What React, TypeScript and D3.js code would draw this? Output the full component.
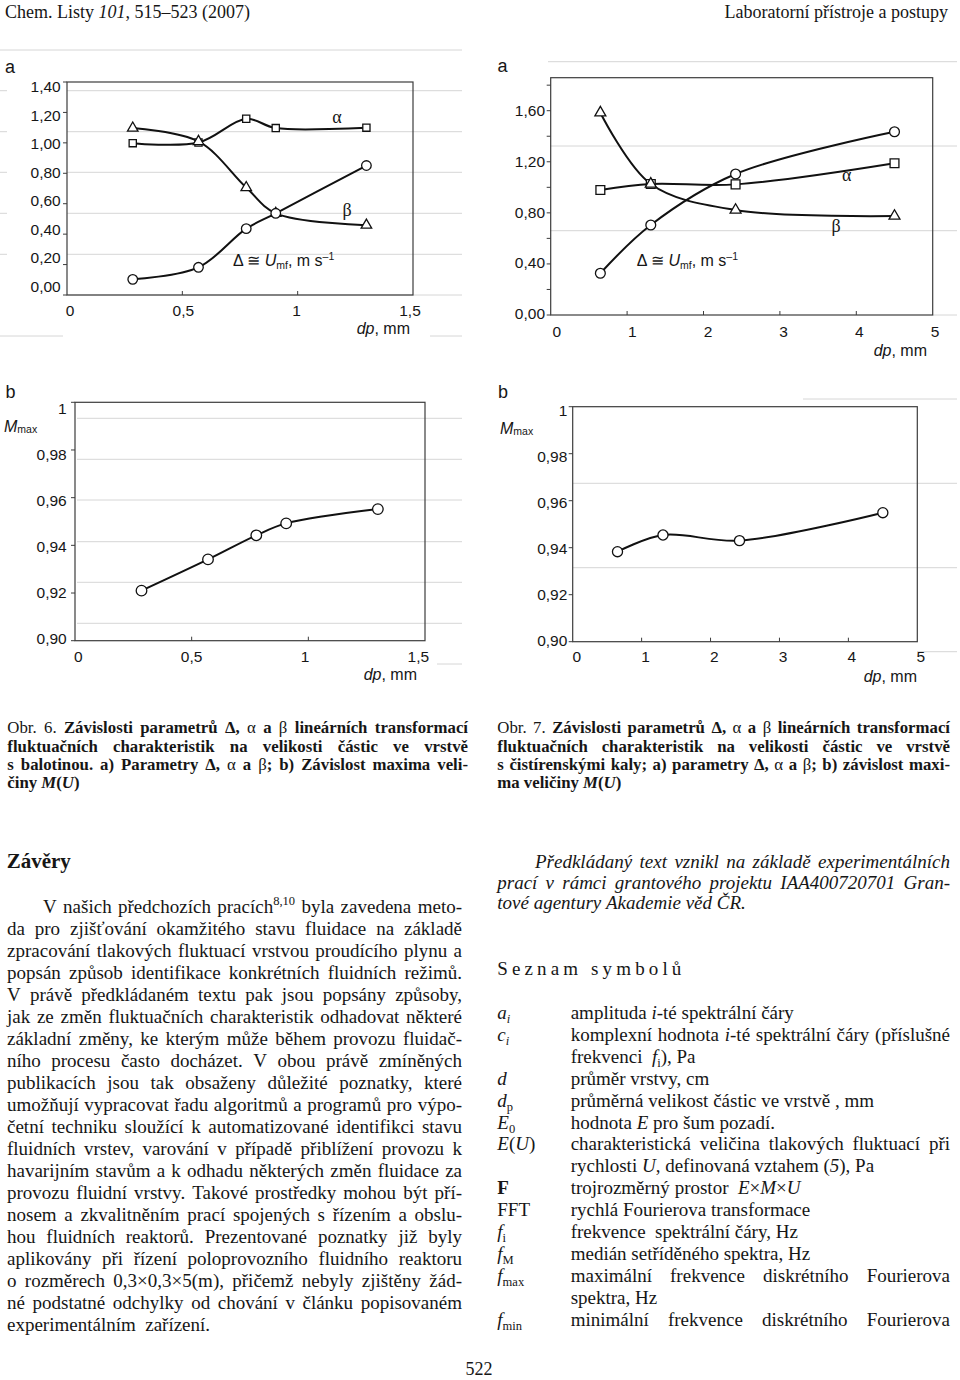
import React from "react";
import * as d3 from "d3";

// ---------------- data ----------------
const fig6Dp = [0.285, 0.57, 0.777, 0.905, 1.298];
const fig6Delta = [0.103, 0.182, 0.436, 0.537, 0.851];
const fig6Alpha = [0.998, 1.002, 1.158, 1.097, 1.1];
const fig6Beta = [1.097, 1.009, 0.706, 0.537, 0.459];
const fig6Mmax = [0.921, 0.9341, 0.9442, 0.9492, 0.9552];

const fig7Dp = [0.65, 1.31, 2.42, 4.5];
const fig7Delta = [0.327, 0.705, 1.104, 1.435];
const fig7Alpha = [0.979, 1.026, 1.023, 1.188];
const fig7Beta = [1.584, 1.026, 0.822, 0.775];
const fig7Mmax = [0.9383, 0.9454, 0.943, 0.9549];

const fig6XTicks = [0, 0.5, 1, 1.5];
const fig6XLabels = ["0", "0,5", "1", "1,5"];
const fig7XTicks = [0, 1, 2, 3, 4, 5];
const fig7XLabels = ["0", "1", "2", "3", "4", "5"];
const fig6aYTicks = [0, 0.2, 0.4, 0.6, 0.8, 1.0, 1.2, 1.4];
const fig6aYLabels = ["0,00", "0,20", "0,40", "0,60", "0,80", "1,00", "1,20", "1,40"];
const fig7aYTicks = [0, 0.4, 0.8, 1.2, 1.6];
const fig7aYLabels = ["0,00", "0,40", "0,80", "1,20", "1,60"];
const fig7aYMinor = [0.2, 0.6, 1.0, 1.4, 1.8];
const mmaxYTicks = [0.9, 0.92, 0.94, 0.96, 0.98, 1.0];
const mmaxYLabels = ["0,90", "0,92", "0,94", "0,96", "0,98", "1"];

// ---------------- text ----------------
const headerLeft = "Chem. Listy {ri:101}, 515–523 (2007)";
const headerRight = "Laboratorní přístroje a postupy";

const cap6 = [
  "{r:Obr. 6.} Závislosti parametrů Δ, {r:α} a {r:β} lineárních transformací",
  "fluktuačních charakteristik na velikosti částic ve vrstvě",
  "s balotinou. a) Parametry Δ, {r:α} a {r:β}; b) Závislost  maxima veli-",
  "činy {i:M}({i:U})",
];
const cap7 = [
  "{r:Obr. 7.} Závislosti parametrů Δ, {r:α} a {r:β} lineárních transformací",
  "fluktuačních charakteristik na velikosti částic ve vrstvě",
  "s čistírenskými kaly; a) parametry Δ, {r:α} a {r:β}; b) závislost  maxi-",
  "ma veličiny {i:M}({i:U})",
];

const conclusionLines = [
  "V našich předchozích pracích{u:8,10} byla zavedena meto-",
  "da pro zjišťování  okamžitého stavu fluidace na základě",
  "zpracování tlakových fluktuací vrstvou proudícího plynu a",
  "popsán způsob identifikace  konkrétních fluidních režimů.",
  "V právě předkládaném textu pak jsou popsány způsoby,",
  "jak ze změn fluktuačních charakteristik odhadovat některé",
  "základní změny, ke kterým může během provozu fluidač-",
  "ního procesu často docházet. V obou právě zmíněných",
  "publikacích jsou tak obsaženy důležité poznatky, které",
  "umožňují vypracovat řadu algoritmů a programů pro výpo-",
  "četní techniku sloužící k automatizované identifikci stavu",
  "fluidních vrstev, varování v případě přiblížení provozu k",
  "havarijním stavům a k odhadu některých změn fluidace za",
  "provozu fluidní vrstvy. Takové prostředky mohou být pří-",
  "nosem a zkvalitněním prací spojených s řízením a obslu-",
  "hou fluidních  reaktorů. Prezentované poznatky již byly",
  "aplikovány při řízení poloprovozního fluidního reaktoru",
  "o rozměrech  0,3×0,3×5(m), přičemž nebyly zjištěny  žád-",
  "né podstatné odchylky od  chování  v  článku popisovaném",
  "experimentálním  zařízení.",
];

const ackLines = [
  "Předkládaný text vznikl na základě experimentálních",
  "prací v rámci grantového projektu IAA400720701  Gran-",
  "tové agentury Akademie věd ČR.",
];

const symbolEntries: { sym: string; lines: string[]; j: number }[] = [
  { sym: "{i:a}{id:i}", lines: ["amplituda {i:i}-té spektrální čáry"], j: 0 },
  { sym: "{i:c}{id:i}", lines: ["komplexní hodnota {i:i}-té spektrální čáry (příslušné", "frekvenci  {i:f}{d:i}), Pa"], j: 1 },
  { sym: "{i:d}", lines: ["průměr vrstvy, cm"], j: 0 },
  { sym: "{i:d}{d:p}", lines: ["průměrná velikost částic ve vrstvě , mm"], j: 0 },
  { sym: "{i:E}{d:0}", lines: ["hodnota {i:E} pro šum pozadí."], j: 0 },
  { sym: "{i:E}({i:U})", lines: ["charakteristická veličina tlakových fluktuací při", "rychlosti {i:U}, definovaná vztahem ({i:5}), Pa"], j: 1 },
  { sym: "{b:F}", lines: ["trojrozměrný prostor  {i:E}×{i:M}×{i:U}"], j: 0 },
  { sym: "FFT", lines: ["rychlá Fourierova transformace"], j: 0 },
  { sym: "{i:f}{d:i}", lines: ["frekvence  spektrální čáry, Hz"], j: 0 },
  { sym: "{i:f}{d:M}", lines: ["medián setříděného spektra, Hz"], j: 0 },
  { sym: "{i:f}{d:max}", lines: ["maximální frekvence diskrétního Fourierova", "spektra, Hz"], j: 1 },
  { sym: "{i:f}{d:min}", lines: ["minimální frekvence diskrétního Fourierova"], j: 1 },
];

// ---------------- text helpers ----------------
const SERIF = '"Liberation Serif", "Times New Roman", serif';
const SANS = '"Liberation Sans", Arial, sans-serif';
const INK = "#161616";

type Run = { t: string; i: boolean; b: boolean; d: boolean; u: boolean };
let _ctx: CanvasRenderingContext2D | null = null;
function measure(t: string, font: string) {
  if (!_ctx) _ctx = document.createElement("canvas").getContext("2d");
  _ctx!.font = font;
  return _ctx!.measureText(t).width;
}
function cssFont(i: boolean, b: boolean, size: number) {
  return `${i ? "italic " : ""}${b ? "bold " : ""}${size}px "Liberation Serif"`;
}
function parseLine(src: string, base: { i: boolean; b: boolean }): Run[][] {
  const runs: Run[] = [];
  const re = /\{([a-z]*):([^}]*)\}|([^{]+)/g;
  let m: RegExpExecArray | null;
  while ((m = re.exec(src))) {
    if (m[3] !== undefined) runs.push({ t: m[3], i: base.i, b: base.b, d: false, u: false });
    else {
      const f = m[1];
      const r = f.includes("r");
      runs.push({
        t: m[2],
        i: f.includes("i") || (!r && base.i),
        b: f.includes("b") || (!r && base.b),
        d: f.includes("d"),
        u: f.includes("u"),
      });
    }
  }
  const words: Run[][] = [[]];
  for (const run of runs) {
    run.t.split(" ").forEach((p, k) => {
      if (k > 0) words.push([]);
      if (p) words[words.length - 1].push({ ...run, t: p });
    });
  }
  return words;
}

function TLine(props: {
  src: string; x0: number; x1?: number; y: number; size: number;
  italic?: boolean; bold?: boolean; justify?: boolean; anchor?: "start" | "end" | "middle";
}) {
  const { src, x0, y, size, italic = false, bold = false, justify = false, anchor = "start" } = props;
  const x1 = props.x1 ?? x0;
  const words = parseLine(src, { i: italic, b: bold });
  const spaceW = measure(" ", cssFont(italic, bold, size));
  const ws = words.map((w) =>
    w.map((r) => {
      const fs = r.d || r.u ? size * 0.66 : size;
      return { ...r, fs, w: measure(r.t, cssFont(r.i, r.b, fs)) };
    })
  );
  const wW = ws.map((w) => d3.sum(w, (r) => r.w));
  let pos: number[] = ws.map(() => NaN);
  if (justify) {
    const idx = ws.map((_, k) => k).filter((k) => ws[k].length > 0);
    const total = d3.sum(idx, (k) => wW[k]);
    const gap = idx.length > 1 ? Math.max(spaceW * 0.5, (x1 - x0 - total) / (idx.length - 1)) : 0;
    let x = x0;
    idx.forEach((k) => { pos[k] = x; x += wW[k] + gap; });
  } else {
    const total = d3.sum(wW) + spaceW * (ws.length - 1);
    let x = anchor === "end" ? x1 - total : anchor === "middle" ? x0 - total / 2 : x0;
    pos = ws.map((_, k) => { const p = x; x += wW[k] + spaceW; return p; });
  }
  const out: React.ReactNode[] = [];
  ws.forEach((w, k) => {
    let x = pos[k];
    if (isNaN(x)) return;
    w.forEach((r, j) => {
      out.push(
        <text key={k + "-" + j} x={x} y={y + (r.d ? size * 0.22 : r.u ? -size * 0.38 : 0)}
          fontSize={r.fs} fontStyle={r.i ? "italic" : "normal"} fontWeight={r.b ? "bold" : "normal"}>
          {r.t}
        </text>
      );
      x += r.w;
    });
  });
  return <g fontFamily={SERIF} fill={INK}>{out}</g>;
}

// ---------------- chart panel ----------------
type Series = { y: number[]; shape: "circle" | "square" | "triangle"; size: number };
type PanelProps = {
  frame: { x0: number; x1: number; y0: number; y1: number };
  xDom: [number, number]; yDom: [number, number]; yRange: [number, number];
  xLab: [number, number]; yLab: [number, number];
  xTicks: number[]; xLabels: string[]; yTicks: number[]; yLabels: string[]; yMinor?: number[];
  xLabelY: number; yLabelRight: number;
  xs: number[]; series: Series[];
  gray: { y: number; a: number; b: number }[];
  dpRight: number; dpY: number;
  children?: React.ReactNode;
};

const shapeMap = { circle: d3.symbolCircle, square: d3.symbolSquare, triangle: d3.symbolTriangle };

function Panel(p: PanelProps) {
  const { frame } = p;
  const x = d3.scaleLinear().domain(p.xDom).range([frame.x0, frame.x1]);
  const y = d3.scaleLinear().domain(p.yDom).range(p.yRange);
  const xl = d3.scaleLinear().domain(p.xDom).range(p.xLab);
  const yl = d3.scaleLinear().domain([p.yTicks[0], p.yTicks[p.yTicks.length - 1]]).range(p.yLab);
  const line = d3.line<[number, number]>().x((d) => x(d[0])).y((d) => y(d[1])).curve(d3.curveCatmullRom.alpha(0.5));
  const allY = [...p.yTicks, ...(p.yMinor || [])];
  return (
    <g>
      {p.gray.map((g, i) => (
        <line key={"g" + i} x1={g.a} x2={g.b} y1={g.y} y2={g.y} stroke="#d6d6d6" strokeWidth={1} />
      ))}
      <rect x={frame.x0} y={frame.y0} width={frame.x1 - frame.x0} height={frame.y1 - frame.y0}
        fill="none" stroke="#3c3c3c" strokeWidth={1.2} />
      {allY.map((v, i) => (
        <line key={"yt" + i} x1={frame.x0 - 4} x2={frame.x0} y1={y(v)} y2={y(v)} stroke="#3c3c3c" strokeWidth={1} />
      ))}
      {p.xTicks.slice(1, -1).map((v, i) => (
        <line key={"xt" + i} x1={x(v)} x2={x(v)} y1={frame.y1} y2={frame.y1 - 4} stroke="#3c3c3c" strokeWidth={1} />
      ))}
      <g fontFamily={SANS} fontSize={15.5} fill={INK}>
        {p.yTicks.map((v, i) => (
          <text key={"yl" + i} x={p.yLabelRight} y={yl(v)} dy="0.36em" textAnchor="end">{p.yLabels[i]}</text>
        ))}
        {p.xTicks.map((v, i) => (
          <text key={"xl" + i} x={xl(v)} y={p.xLabelY} dy="0.36em" textAnchor="middle">{p.xLabels[i]}</text>
        ))}
        <text x={p.dpRight} y={p.dpY} textAnchor="end" fontSize={16}>
          <tspan fontStyle="italic">dp</tspan>, mm
        </text>
      </g>
      {p.series.map((s, si) => (
        <path key={"l" + si} d={line(p.xs.map((xv, k) => [xv, s.y[k]]) as [number, number][]) || ""}
          fill="none" stroke="#111" strokeWidth={2} />
      ))}
      {p.series.map((s, si) => (
        <g key={"m" + si}>
          {p.xs.map((xv, k) => (
            <path key={k} transform={`translate(${x(xv)},${y(s.y[k])})`}
              d={d3.symbol().type(shapeMap[s.shape]).size(s.size)() || ""}
              fill="#fff" stroke="#111" strokeWidth={1.3} />
          ))}
        </g>
      ))}
      {p.children}
    </g>
  );
}

function DeltaLabel({ x, y }: { x: number; y: number }) {
  return (
    <text x={x} y={y} fontFamily={SANS} fontSize={16} fill={INK}>
      Δ ≅ <tspan fontStyle="italic">U</tspan>
      <tspan fontSize={10.5} dy={3}>mf</tspan>
      <tspan dy={-3}>, m s</tspan>
      <tspan fontSize={10.5} dy={-6}>–1</tspan>
    </text>
  );
}
function MLabel({ x, y }: { x: number; y: number }) {
  return (
    <text x={x} y={y} fontFamily={SANS} fontSize={16} fill={INK}>
      <tspan fontStyle="italic">M</tspan>
      <tspan fontSize={10.5} dy={1}>max</tspan>
    </text>
  );
}

export default function App() {
  const greek = { fontFamily: SERIF, fontSize: 18, fill: INK, textAnchor: "middle" as const };
  return (
    <div style={{ position: "absolute", left: 0, top: 0 }}>
      <svg width={960} height={1380} viewBox="0 0 960 1380" style={{ display: "block" }}>
        <rect width={960} height={1380} fill="#fff" />

        <TLine src={headerLeft} x0={5} y={18} size={18} />
        <TLine src={headerRight} x0={948} x1={948} y={18} size={18} anchor="end" />

        {/* Fig 6a */}
        <Panel
          frame={{ x0: 67, x1: 413, y0: 82, y1: 295 }}
          xDom={[0, 1.5]} yDom={[0, 1.4]} yRange={[295, 82]}
          xLab={[70, 410]} yLab={[286, 86.7]}
          xTicks={fig6XTicks} xLabels={fig6XLabels} yTicks={fig6aYTicks} yLabels={fig6aYLabels}
          xLabelY={310} yLabelRight={60.7}
          xs={fig6Dp}
          series={[
            { y: fig6Alpha, shape: "square", size: 52 },
            { y: fig6Beta, shape: "triangle", size: 48 },
            { y: fig6Delta, shape: "circle", size: 72 },
          ]}
          gray={[
            { y: 50, a: 0, b: 462 },
            ...[90.7, 131.7, 172.3, 213.3, 254.3].map((g) => ({ y: g, a: 0, b: 7 })),
            ...[90.7, 131.7, 172.3, 213.3, 254.3, 295].map((g) => ({ y: g, a: 67, b: 462 })),
            { y: 336, a: 0, b: 63 }, { y: 336, a: 430, b: 462 },
          ]}
          dpRight={410} dpY={333.5}
        >
          <text x={5} y={73} fontFamily={SANS} fontSize={18} fill={INK}>a</text>
          <text x={337} y={123} {...greek}>α</text>
          <text x={347} y={216} {...greek}>β</text>
          <DeltaLabel x={233} y={265.5} />
        </Panel>

        {/* Fig 7a */}
        <Panel
          frame={{ x0: 550.7, x1: 932.7, y0: 77.7, y1: 315 }}
          xDom={[0, 5]} yDom={[0, 1.6]} yRange={[315, 110.7]}
          xLab={[556.7, 935]} yLab={[313.3, 110.7]}
          xTicks={fig7XTicks} xLabels={fig7XLabels} yTicks={fig7aYTicks} yLabels={fig7aYLabels} yMinor={fig7aYMinor}
          xLabelY={331.7} yLabelRight={545}
          xs={fig7Dp}
          series={[
            { y: fig7Alpha, shape: "square", size: 78 },
            { y: fig7Beta, shape: "triangle", size: 52 },
            { y: fig7Delta, shape: "circle", size: 76 },
          ]}
          gray={[
            { y: 61.7, a: 548, b: 957 },
            { y: 146, a: 550, b: 957 },
            { y: 230.7, a: 550, b: 957 },
            { y: 315, a: 933, b: 957 },
          ]}
          dpRight={927} dpY={355.5}
        >
          <text x={497.5} y={72} fontFamily={SANS} fontSize={18} fill={INK}>a</text>
          <text x={846.7} y={181} {...greek}>α</text>
          <text x={836} y={232} {...greek}>β</text>
          <DeltaLabel x={636.7} y={265.5} />
        </Panel>

        {/* Fig 6b */}
        <Panel
          frame={{ x0: 75, x1: 425, y0: 402.3, y1: 640.7 }}
          xDom={[0, 1.5]} yDom={[0.9, 1.0]} yRange={[640.7, 402.3]}
          xLab={[78.3, 418.3]} yLab={[638.3, 408.3]}
          xTicks={fig6XTicks} xLabels={fig6XLabels} yTicks={mmaxYTicks} yLabels={mmaxYLabels}
          xLabelY={656.7} yLabelRight={66.7}
          xs={fig6Dp}
          series={[{ y: fig6Mmax, shape: "circle", size: 88 }]}
          gray={[
            ...[418.3, 459.3, 500, 541.7, 582.3, 623.3].map((g) => ({ y: g, a: 77, b: 462 })),
            { y: 664, a: 437, b: 462 },
          ]}
          dpRight={417} dpY={679.5}
        >
          <text x={5.5} y={398} fontFamily={SANS} fontSize={18} fill={INK}>b</text>
          <MLabel x={4} y={432} />
        </Panel>

        {/* Fig 7b */}
        <Panel
          frame={{ x0: 572.7, x1: 917.3, y0: 406.7, y1: 641.7 }}
          xDom={[0, 5]} yDom={[0.9, 1.0]} yRange={[641.7, 406.7]}
          xLab={[576.7, 920.7]} yLab={[640, 410]}
          xTicks={fig7XTicks} xLabels={fig7XLabels} yTicks={mmaxYTicks} yLabels={mmaxYLabels}
          xLabelY={656.7} yLabelRight={567.3}
          xs={fig7Dp}
          series={[{ y: fig7Mmax, shape: "circle", size: 80 }]}
          gray={[
            { y: 399, a: 803, b: 957 },
            { y: 483.3, a: 573, b: 957 },
            { y: 567.7, a: 573, b: 957 },
            { y: 651.7, a: 917, b: 957 },
          ]}
          dpRight={917} dpY={681.5}
        >
          <text x={498} y={398} fontFamily={SANS} fontSize={18} fill={INK}>b</text>
          <MLabel x={500} y={434} />
        </Panel>

        {/* Captions */}
        {cap6.map((s, i) => (
          <TLine key={"c6" + i} src={s} x0={7.3} x1={468} y={733.3 + 18.35 * i} size={16.8} bold justify={i < 3} />
        ))}
        {cap7.map((s, i) => (
          <TLine key={"c7" + i} src={s} x0={497.3} x1={950} y={733.3 + 18.35 * i} size={16.8} bold justify={i < 3} />
        ))}

        {/* Závěry */}
        <text x={6.7} y={868} fontFamily={SERIF} fontSize={21} fontWeight="bold" fill={INK}>Závěry</text>
        {conclusionLines.map((s, i) => (
          <TLine key={"b" + i} src={s} x0={i === 0 ? 43 : 7} x1={462} y={912.7 + 22 * i} size={19}
            justify={i < conclusionLines.length - 1} />
        ))}

        {/* Acknowledgement */}
        {ackLines.map((s, i) => (
          <TLine key={"a" + i} src={s} x0={i === 0 ? 535 : 497.3} x1={950} y={868 + 20.7 * i} size={19}
            italic justify={i < ackLines.length - 1} />
        ))}

        <text x={497.3} y={974.5} fontFamily={SERIF} fontSize={19} fill={INK} textLength={184} lengthAdjust="spacing">
          Seznam symbolů
        </text>

        {(() => {
          const rows: React.ReactNode[] = [];
          let r = 0;
          symbolEntries.forEach((e, ei) => {
            rows.push(<TLine key={"s" + ei} src={e.sym} x0={497.3} y={1019 + 21.9 * r} size={19} />);
            e.lines.forEach((l, li) => {
              rows.push(
                <TLine key={"d" + ei + "-" + li} src={l} x0={570.7} x1={950} y={1019 + 21.9 * r} size={19} justify={li < e.j} />
              );
              r += 1;
            });
          });
          return rows;
        })()}

        <text x={479} y={1375} fontFamily={SERIF} fontSize={18} fill={INK} textAnchor="middle">522</text>
      </svg>
    </div>
  );
}
